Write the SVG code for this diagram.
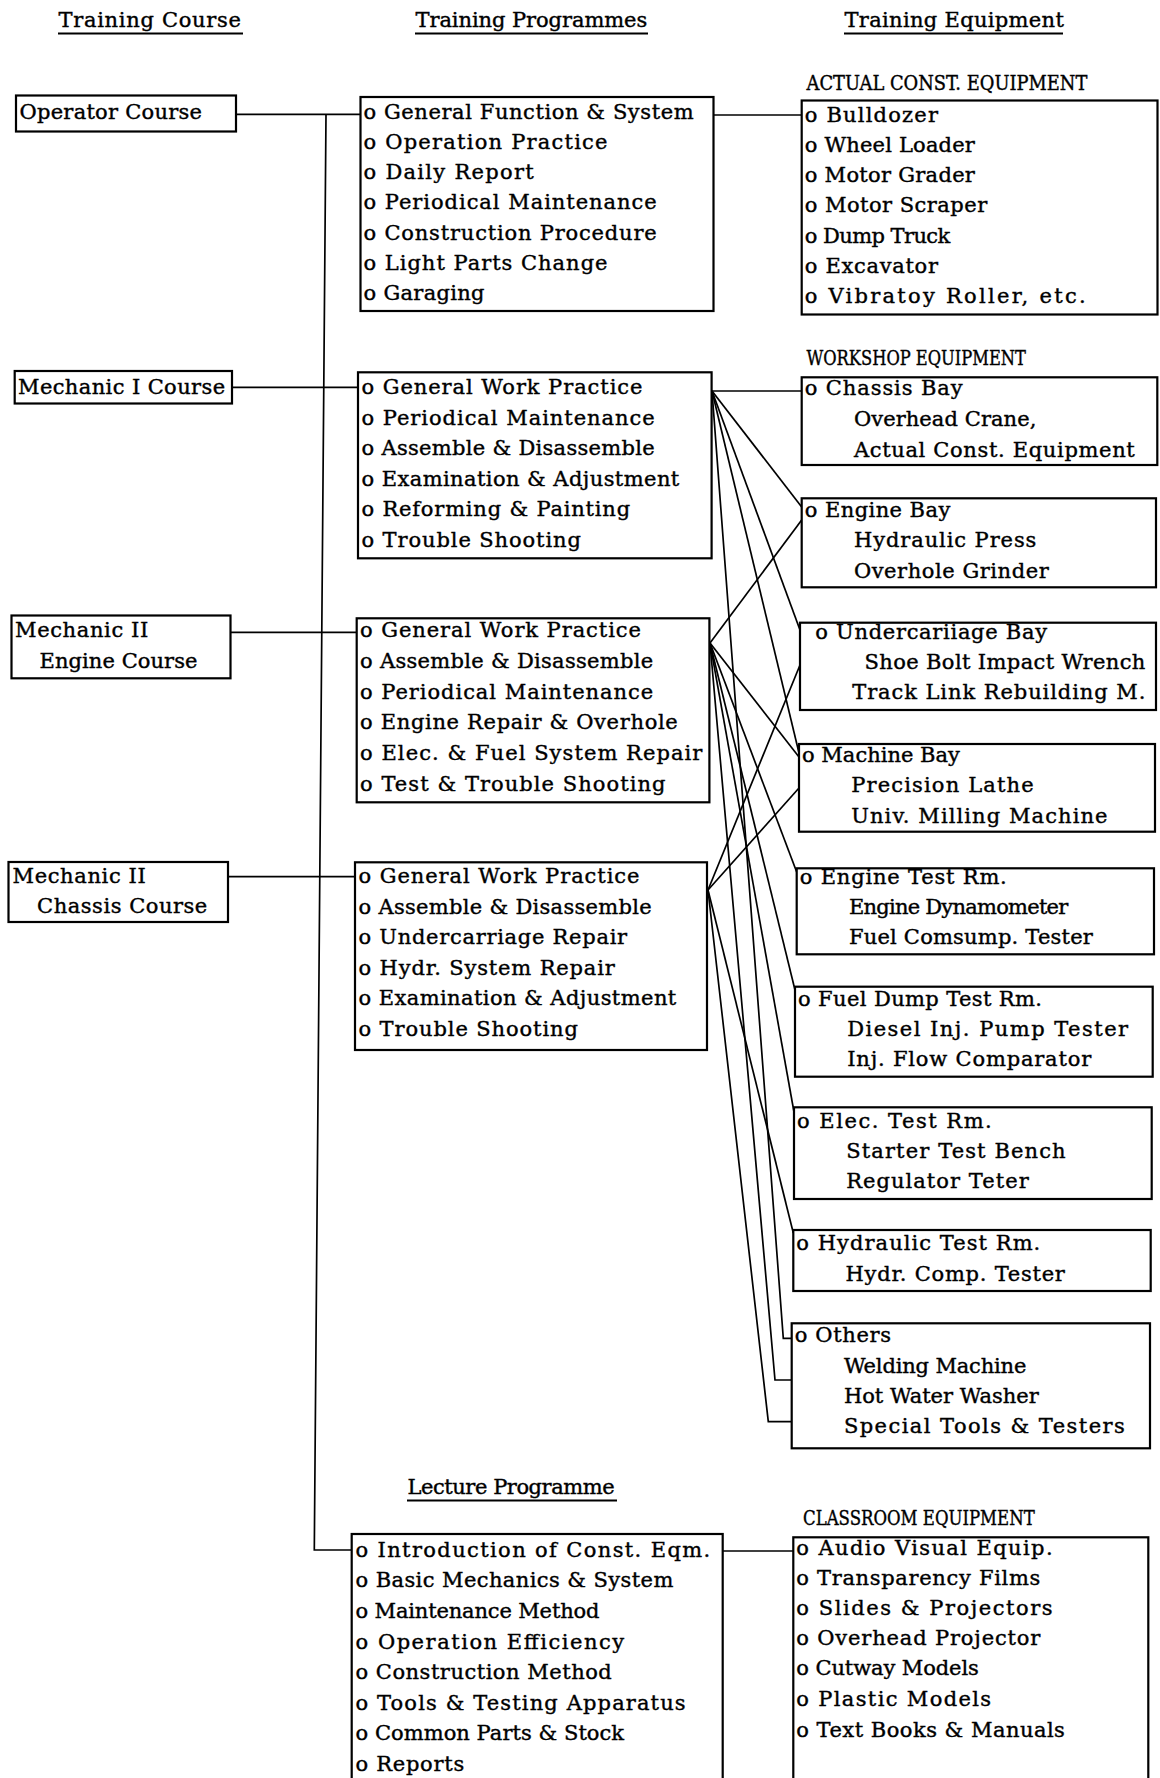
<svg xmlns="http://www.w3.org/2000/svg" width="1160" height="1778" viewBox="0 0 1160 1778">
<style>
.bg{fill:#fff}
.box{fill:#fff;stroke:#000;stroke-width:2.2}
.t{font-family:'DejaVu Serif','Liberation Serif',serif;font-size:21px;fill:#000;stroke:#000;stroke-width:0.4}
.cap{font-size:20px}
.c{fill:none;stroke:#000;stroke-width:1.7}
.u{stroke:#000;stroke-width:2}
</style>
<rect class="bg" x="0" y="0" width="1160" height="1778"/>

<g id="connectors">
  <line class="c" x1="236" y1="114.3" x2="360.5" y2="114.3"/>
  <polyline class="c" points="326,114.3 314.3,1550 351.7,1550"/>
  <line class="c" x1="232" y1="387.3" x2="358" y2="387.3"/>
  <line class="c" x1="230.5" y1="632.3" x2="356.7" y2="632.3"/>
  <line class="c" x1="228" y1="876.7" x2="355" y2="876.7"/>
  <line class="c" x1="713.5" y1="115" x2="801.7" y2="115"/>
  <line class="c" x1="722.7" y1="1551" x2="793.3" y2="1551"/>
  <line class="c" x1="712" y1="391" x2="801.7" y2="391"/>
  <line class="c" x1="712" y1="391" x2="801.7" y2="507"/>
  <line class="c" x1="712" y1="391" x2="800" y2="630"/>
  <line class="c" x1="712" y1="391" x2="799" y2="753"/>
  <polyline class="c" points="712,391 783.3,1338.3 791.7,1338.3"/>
  <line class="c" x1="710" y1="643" x2="801.7" y2="520"/>
  <line class="c" x1="710" y1="643" x2="799" y2="757"/>
  <line class="c" x1="710" y1="643" x2="796.7" y2="872"/>
  <line class="c" x1="710" y1="643" x2="795" y2="990"/>
  <line class="c" x1="710" y1="643" x2="794" y2="1112"/>
  <polyline class="c" points="710,643 775,1380 791.7,1380"/>
  <line class="c" x1="708" y1="890" x2="800" y2="665"/>
  <line class="c" x1="708" y1="890" x2="799" y2="788"/>
  <line class="c" x1="708" y1="890" x2="793.3" y2="1233"/>
  <polyline class="c" points="708,890 768.3,1421.7 791.7,1421.7"/>
</g>

<g id="headers">
  <text class="t" x="58.5" y="27" textLength="182.5">Training Course</text>
  <line class="u" x1="58" y1="33.5" x2="243" y2="33.5"/>
  <text class="t" x="415.5" y="27" textLength="231.7">Training Programmes</text>
  <line class="u" x1="415" y1="33.5" x2="648" y2="33.5"/>
  <text class="t" x="844.5" y="27" textLength="219.4">Training Equipment</text>
  <line class="u" x1="844" y1="33.5" x2="1063" y2="33.5"/>
  <text class="t" x="407.5" y="1494" textLength="207.1">Lecture Programme</text>
  <line class="u" x1="407" y1="1500.5" x2="617" y2="1500.5"/>
  <text class="t cap" x="806.5" y="90" textLength="280.9" lengthAdjust="spacingAndGlyphs">ACTUAL CONST. EQUIPMENT</text>
  <text class="t cap" x="806.5" y="365" textLength="219.4" lengthAdjust="spacingAndGlyphs">WORKSHOP EQUIPMENT</text>
  <text class="t cap" x="803" y="1525" textLength="231.7" lengthAdjust="spacingAndGlyphs">CLASSROOM EQUIPMENT</text>
</g>

<g id="course-operator">
  <rect class="box" x="16" y="95.5" width="220" height="36"/>
  <text class="t" x="19.5" y="119" textLength="182.5">Operator Course</text>
</g>
<g id="course-mechanic1">
  <rect class="box" x="14.7" y="371" width="217.3" height="32.5"/>
  <text class="t" x="18" y="394" textLength="207.1">Mechanic I Course</text>
</g>
<g id="course-mechanic2-engine">
  <rect class="box" x="11.5" y="615.5" width="219" height="62.8"/>
  <text class="t" x="15" y="637.3" textLength="133.3">Mechanic II</text>
  <text class="t" x="39.6" y="668.3" textLength="157.9">Engine Course</text>
</g>
<g id="course-mechanic2-chassis">
  <rect class="box" x="8.5" y="862" width="219.5" height="60"/>
  <text class="t" x="12.5" y="883.3" textLength="133.3">Mechanic II</text>
  <text class="t" x="37.1" y="913.3" textLength="170.2">Chassis Course</text>
</g>

<g id="prog-operator">
  <rect class="box" x="360.5" y="97" width="353" height="214"/>
  <text class="t" x="363.5" y="118.5" textLength="330.1">o General Function &amp; System</text>
  <text class="t" x="363.5" y="148.8" textLength="244">o Operation Practice</text>
  <text class="t" x="363.5" y="179.1" textLength="170.2">o Daily Report</text>
  <text class="t" x="363.5" y="209.4" textLength="293.2">o Periodical Maintenance</text>
  <text class="t" x="363.5" y="239.7" textLength="293.2">o Construction Procedure</text>
  <text class="t" x="363.5" y="270" textLength="244">o Light Parts Change</text>
  <text class="t" x="363.5" y="300.3" textLength="121">o Garaging</text>
</g>
<g id="prog-mechanic1">
  <rect class="box" x="358" y="372.3" width="353.6" height="186"/>
  <text class="t" x="361.5" y="394" textLength="280.9">o General Work Practice</text>
  <text class="t" x="361.5" y="424.5" textLength="293.2">o Periodical Maintenance</text>
  <text class="t" x="361.5" y="455" textLength="293.2">o Assemble &amp; Disassemble</text>
  <text class="t" x="361.5" y="485.5" textLength="317.8">o Examination &amp; Adjustment</text>
  <text class="t" x="361.5" y="516" textLength="268.6">o Reforming &amp; Painting</text>
  <text class="t" x="361.5" y="546.5" textLength="219.4">o Trouble Shooting</text>
</g>
<g id="prog-mechanic2-engine">
  <rect class="box" x="356.7" y="618.3" width="352.7" height="184"/>
  <text class="t" x="360" y="637.3" textLength="280.9">o General Work Practice</text>
  <text class="t" x="360" y="668" textLength="293.2">o Assemble &amp; Disassemble</text>
  <text class="t" x="360" y="698.7" textLength="293.2">o Periodical Maintenance</text>
  <text class="t" x="360" y="729.4" textLength="317.8">o Engine Repair &amp; Overhole</text>
  <text class="t" x="360" y="760" textLength="342.4">o Elec. &amp; Fuel System Repair</text>
  <text class="t" x="360" y="790.7" textLength="305.5">o Test &amp; Trouble Shooting</text>
</g>
<g id="prog-mechanic2-chassis">
  <rect class="box" x="355" y="862.3" width="352" height="187.7"/>
  <text class="t" x="358.5" y="883.3" textLength="280.9">o General Work Practice</text>
  <text class="t" x="358.5" y="913.8" textLength="293.2">o Assemble &amp; Disassemble</text>
  <text class="t" x="358.5" y="944.3" textLength="268.6">o Undercarriage Repair</text>
  <text class="t" x="358.5" y="974.8" textLength="256.3">o Hydr. System Repair</text>
  <text class="t" x="358.5" y="1005.3" textLength="317.8">o Examination &amp; Adjustment</text>
  <text class="t" x="358.5" y="1035.8" textLength="219.4">o Trouble Shooting</text>
</g>
<g id="prog-lecture">
  <rect class="box" x="351.7" y="1534" width="371" height="270"/>
  <text class="t" x="355.5" y="1556.7" textLength="354.7">o Introduction of Const. Eqm.</text>
  <text class="t" x="355.5" y="1587.3" textLength="317.8">o Basic Mechanics &amp; System</text>
  <text class="t" x="355.5" y="1617.9" textLength="244">o Maintenance Method</text>
  <text class="t" x="355.5" y="1648.5" textLength="268.6">o Operation Efficiency</text>
  <text class="t" x="355.5" y="1679.1" textLength="256.3">o Construction Method</text>
  <text class="t" x="355.5" y="1709.7" textLength="330.1">o Tools &amp; Testing Apparatus</text>
  <text class="t" x="355.5" y="1740.3" textLength="268.6">o Common Parts &amp; Stock</text>
  <text class="t" x="355.5" y="1770.9" textLength="108.7">o Reports</text>
</g>

<g id="eq-actual">
  <rect class="box" x="801.7" y="100.5" width="355.8" height="214"/>
  <text class="t" x="804.7" y="121.5" textLength="133.3">o Bulldozer</text>
  <text class="t" x="804.7" y="151.8" textLength="170.2">o Wheel Loader</text>
  <text class="t" x="804.7" y="182.1" textLength="170.2">o Motor Grader</text>
  <text class="t" x="804.7" y="212.4" textLength="182.5">o Motor Scraper</text>
  <text class="t" x="804.7" y="242.7" textLength="145.6">o Dump Truck</text>
  <text class="t" x="804.7" y="273" textLength="133.3">o Excavator</text>
  <text class="t" x="804.7" y="303.3" textLength="280.9">o Vibratoy Roller, etc.</text>
</g>
<g id="eq-chassis-bay">
  <rect class="box" x="801.7" y="377.3" width="355.6" height="87.7"/>
  <text class="t" x="804.7" y="395" textLength="157.9">o Chassis Bay</text>
  <text class="t" x="853.9" y="426" textLength="182.5">Overhead Crane,</text>
  <text class="t" x="853.9" y="456.7" textLength="280.9">Actual Const. Equipment</text>
</g>
<g id="eq-engine-bay">
  <rect class="box" x="801.7" y="498.3" width="354.3" height="89"/>
  <text class="t" x="804.7" y="517.3" textLength="145.6">o Engine Bay</text>
  <text class="t" x="853.9" y="547.3" textLength="182.5">Hydraulic Press</text>
  <text class="t" x="853.9" y="578.3" textLength="194.8">Overhole Grinder</text>
</g>
<g id="eq-undercarriage-bay">
  <rect class="box" x="800" y="622.7" width="356" height="87.3"/>
  <text class="t" x="815.3" y="639.3" textLength="231.7">o Undercariiage Bay</text>
  <text class="t" x="864.5" y="669.3" textLength="280.9">Shoe Bolt Impact Wrench</text>
  <text class="t" x="852.2" y="699.3" textLength="293.2">Track Link Rebuilding M.</text>
</g>
<g id="eq-machine-bay">
  <rect class="box" x="799" y="744" width="356" height="87.7"/>
  <text class="t" x="802" y="761.7" textLength="157.9">o Machine Bay</text>
  <text class="t" x="851.2" y="791.7" textLength="182.5">Precision Lathe</text>
  <text class="t" x="851.2" y="822.7" textLength="256.3">Univ. Milling Machine</text>
</g>
<g id="eq-engine-test">
  <rect class="box" x="796.7" y="868.3" width="357.3" height="86"/>
  <text class="t" x="799.7" y="884" textLength="207.1">o Engine Test Rm.</text>
  <text class="t" x="848.9" y="914" textLength="219.4">Engine Dynamometer</text>
  <text class="t" x="848.9" y="944" textLength="244">Fuel Comsump. Tester</text>
</g>
<g id="eq-fuel-dump-test">
  <rect class="box" x="795" y="986.7" width="357.7" height="90"/>
  <text class="t" x="798" y="1006" textLength="244">o Fuel Dump Test Rm.</text>
  <text class="t" x="847.2" y="1036" textLength="280.9">Diesel Inj. Pump Tester</text>
  <text class="t" x="847.2" y="1066" textLength="244">Inj. Flow Comparator</text>
</g>
<g id="eq-elec-test">
  <rect class="box" x="794" y="1107.3" width="357.7" height="91.7"/>
  <text class="t" x="797" y="1128.3" textLength="194.8">o Elec. Test Rm.</text>
  <text class="t" x="846.2" y="1158.3" textLength="219.4">Starter Test Bench</text>
  <text class="t" x="846.2" y="1188.3" textLength="182.5">Regulator Teter</text>
</g>
<g id="eq-hydraulic-test">
  <rect class="box" x="793.3" y="1230" width="357.4" height="61"/>
  <text class="t" x="796.3" y="1250" textLength="244">o Hydraulic Test Rm.</text>
  <text class="t" x="845.5" y="1280.7" textLength="219.4">Hydr. Comp. Tester</text>
</g>
<g id="eq-others">
  <rect class="box" x="791.7" y="1323.3" width="358.3" height="125"/>
  <text class="t" x="794.7" y="1341.7" textLength="96.4">o Others</text>
  <text class="t" x="843.9" y="1372.7" textLength="182.5">Welding Machine</text>
  <text class="t" x="843.9" y="1403.3" textLength="194.8">Hot Water Washer</text>
  <text class="t" x="843.9" y="1433.3" textLength="280.9">Special Tools &amp; Testers</text>
</g>
<g id="eq-classroom">
  <rect class="box" x="793.3" y="1537.3" width="355" height="270"/>
  <text class="t" x="796.3" y="1555" textLength="256.3">o Audio Visual Equip.</text>
  <text class="t" x="796.3" y="1585" textLength="244">o Transparency Films</text>
  <text class="t" x="796.3" y="1615" textLength="256.3">o Slides &amp; Projectors</text>
  <text class="t" x="796.3" y="1645" textLength="244">o Overhead Projector</text>
  <text class="t" x="796.3" y="1675" textLength="182.5">o Cutway Models</text>
  <text class="t" x="796.3" y="1705.7" textLength="194.8">o Plastic Models</text>
  <text class="t" x="796.3" y="1736.7" textLength="268.6">o Text Books &amp; Manuals</text>
</g>
</svg>
